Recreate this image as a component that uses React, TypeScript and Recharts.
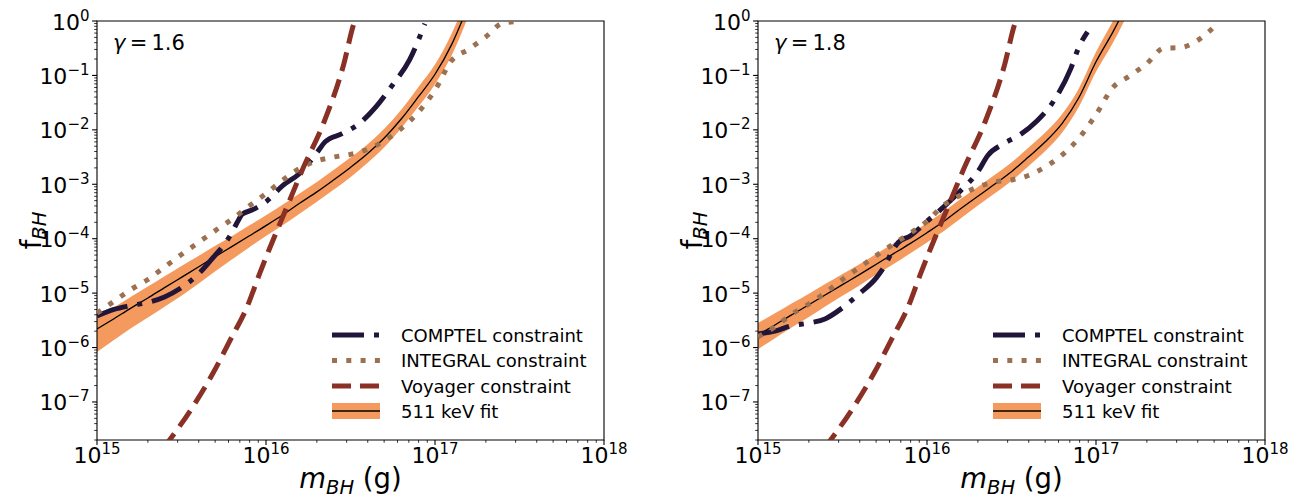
import React from "react";
import { ComposedChart, Line, Area, XAxis, YAxis, ReferenceArea } from "recharts";

const FONT = "DejaVu Sans";

const COMPTEL_COLOR = "#21163a";
const INTEGRAL_COLOR = "#9c7152";
const VOYAGER_COLOR = "#8a3024";
const BAND_COLOR = "#f49a5e";

// 511 keV fit, shared mass grid (g)
const fitMass = [
  1e15, 1.26e15, 1.58e15, 2e15, 2.51e15, 3.16e15, 3.98e15, 5.01e15, 6.31e15, 7.94e15,
  1e16, 1.26e16, 1.58e16, 2e16, 2.51e16, 3.16e16, 3.98e16, 5.01e16, 6.31e16, 7.94e16,
  1e17, 1.26e17, 1.58e17,
];

// gamma = 1.6
const fit16 = [
  2.19e-6, 3.39e-6, 5.25e-6, 8.13e-6, 1.26e-5, 1.95e-5, 3.02e-5, 4.68e-5, 7.24e-5, 1.12e-4,
  1.74e-4, 2.75e-4, 4.47e-4, 7.24e-4, 1.2e-3, 2.04e-3, 3.63e-3, 7.08e-3, 1.58e-2, 3.98e-2,
  0.105, 0.38, 2.0,
];
const fitLo16 = [
  8.32e-7, 1.38e-6, 2.24e-6, 3.55e-6, 5.62e-6, 8.91e-6, 1.48e-5, 2.51e-5, 4.17e-5, 6.92e-5,
  1.12e-4, 1.78e-4, 2.88e-4, 4.79e-4, 7.94e-4, 1.35e-3, 2.45e-3, 4.79e-3, 1.07e-2, 2.63e-2,
  6.92e-2, 0.24, 1.26,
];
const fitHi16 = [
  3.63e-6, 5.5e-6, 8.51e-6, 1.32e-5, 2.04e-5, 3.16e-5, 4.79e-5, 7.41e-5, 1.12e-4, 1.74e-4,
  2.69e-4, 4.27e-4, 6.76e-4, 1.1e-3, 1.82e-3, 3.09e-3, 5.37e-3, 1.05e-2, 2.34e-2, 6.03e-2,
  0.158, 0.603, 3.16,
];

// gamma = 1.8
const fit18 = [
  1.7e-6, 2.6e-6, 3.98e-6, 6.1e-6, 9.33e-6, 1.43e-5, 2.19e-5, 3.39e-5, 5.25e-5, 8.13e-5,
  1.29e-4, 2.09e-4, 3.55e-4, 6.03e-4, 1.0e-3, 1.7e-3, 3.16e-3, 6.03e-3, 1.32e-2, 3.98e-2,
  0.178, 0.631, 2.51,
];
const fitLo18 = [
  9.33e-7, 1.48e-6, 2.34e-6, 3.63e-6, 5.75e-6, 8.91e-6, 1.38e-5, 2.19e-5, 3.39e-5, 5.37e-5,
  8.51e-5, 1.38e-4, 2.34e-4, 4.07e-4, 6.76e-4, 1.15e-3, 2.14e-3, 4.07e-3, 8.91e-3, 2.69e-2,
  0.117, 0.398, 1.58,
];
const fitHi18 = [
  2.82e-6, 4.27e-6, 6.46e-6, 9.77e-6, 1.48e-5, 2.24e-5, 3.39e-5, 5.25e-5, 8.13e-5, 1.23e-4,
  1.95e-4, 3.16e-4, 5.37e-4, 8.91e-4, 1.48e-3, 2.51e-3, 4.68e-3, 8.91e-3, 1.95e-2, 5.89e-2,
  0.269, 1.0, 3.98,
];

// COMPTEL
const comptelMass16 = [
  1e15, 1.26e15, 1.58e15, 2e15, 2.51e15, 3.16e15, 3.98e15, 5.01e15, 5.62e15, 6.31e15,
  6.76e15, 7.24e15, 8.32e15, 1e16, 1.26e16, 1.58e16, 2e16, 2.24e16, 2.82e16, 3.55e16,
  4.47e16, 5.62e16, 7.08e16, 8.71e16,
];
const comptel16 = [
  3.8e-6, 5.01e-6, 5.89e-6, 6.76e-6, 8.51e-6, 1.26e-5, 2.24e-5, 5.01e-5, 7.59e-5, 1.32e-4,
  2.0e-4, 2.82e-4, 3.39e-4, 4.79e-4, 9.55e-4, 1.58e-3, 3.8e-3, 6.03e-3, 8.51e-3, 1.29e-2,
  2.63e-2, 6.76e-2, 0.195, 0.891,
];
const comptelMass18 = [
  1e15, 1.26e15, 1.58e15, 2e15, 2.51e15, 3.16e15, 3.98e15, 5.01e15, 5.62e15, 6.31e15,
  6.76e15, 7.94e15, 1e16, 1.26e16, 1.58e16, 2e16, 2.29e16, 2.82e16, 3.55e16, 4.47e16,
  5.62e16, 7.08e16, 7.94e16, 8.91e16,
];
const comptel18 = [
  1.78e-6, 2.0e-6, 2.51e-6, 2.82e-6, 3.39e-6, 5.37e-6, 9.77e-6, 1.91e-5, 3.16e-5, 6.31e-5,
  8.51e-5, 1.12e-4, 2.09e-4, 3.89e-4, 7.59e-4, 1.7e-3, 3.39e-3, 5.5e-3, 8.13e-3, 1.45e-2,
  3.39e-2, 0.132, 0.339, 0.631,
];

// INTEGRAL
const integralMass16 = [
  1e15, 1.26e15, 1.58e15, 2e15, 2.51e15, 3.16e15, 3.98e15, 5.01e15, 6.31e15, 7.94e15,
  1e16, 1.26e16, 1.58e16, 2e16, 2.51e16, 3.16e16, 3.98e16, 5.01e16, 6.31e16, 7.94e16,
  1e17, 1.26e17, 1.58e17, 2e17, 2.51e17, 3.16e17,
];
const integral16 = [
  4.27e-6, 7.08e-6, 1.15e-5, 1.78e-5, 3.02e-5, 5.13e-5, 8.51e-5, 1.41e-4, 2.29e-4, 3.98e-4,
  6.76e-4, 1.2e-3, 1.95e-3, 2.69e-3, 3.16e-3, 3.55e-3, 4.37e-3, 6.31e-3, 1.05e-2, 2.09e-2,
  5.37e-2, 0.191, 0.302, 0.513, 0.912, 0.977,
];
const integralMass18 = [
  1e15, 1.26e15, 1.58e15, 2e15, 2.51e15, 3.16e15, 3.98e15, 5.01e15, 6.31e15, 7.94e15,
  1e16, 1.26e16, 1.58e16, 2e16, 2.51e16, 3.16e16, 3.98e16, 5.01e16, 6.31e16, 7.94e16,
  1e17, 1.26e17, 1.58e17, 2e17, 2.51e17, 3.16e17, 3.98e17, 5.01e17, 5.25e17,
];
const integral18 = [
  1.58e-6, 2.4e-6, 4.07e-6, 6.31e-6, 1.02e-5, 1.78e-5, 2.95e-5, 4.9e-5, 7.94e-5, 1.26e-4,
  2.09e-4, 4.17e-4, 6.31e-4, 8.91e-4, 1.1e-3, 1.2e-3, 1.45e-3, 2.09e-3, 3.47e-3, 7.08e-3,
  1.91e-2, 6.03e-2, 9.77e-2, 0.166, 0.316, 0.324, 0.437, 0.794, 0.933,
];

// Voyager (same in both panels)
const voyagerMass = [
  2.45e15, 2.75e15, 3.72e15, 4.9e15, 6.17e15, 7.76e15, 9.12e15, 1.05e16, 1.32e16, 1.66e16,
  2.19e16, 2.88e16, 3.31e16, 3.55e16,
];
const voyager = [
  1.38e-8, 2.2e-8, 8.51e-8, 3.55e-7, 1.41e-6, 5.75e-6, 2.19e-5, 6.61e-5, 3.63e-4, 2.0e-3,
  1.32e-2, 0.158, 0.891, 1.5,
];

// ticks
const xMajor = [1e15, 1e16, 1e17, 1e18];
const xMajorLabels = ["15", "16", "17", "18"];
const yMajor = [1, 1e-1, 1e-2, 1e-3, 1e-4, 1e-5, 1e-6, 1e-7];
const yMajorLabels = ["0", "\u22121", "\u22122", "\u22123", "\u22124", "\u22125", "\u22126", "\u22127"];
const minorMantissa = [2, 3, 4, 5, 6, 7, 8, 9];
const xDecades = [1e15, 1e16, 1e17];
const yDecades = [1e-8, 1e-7, 1e-6, 1e-5, 1e-4, 1e-3, 1e-2, 1e-1];

const xTicks = [...xMajor, ...xDecades.flatMap((d) => minorMantissa.map((k) => k * d))];
const yTicks = [...yMajor, ...yDecades.flatMap((d) => minorMantissa.map((k) => k * d))];

const legendLabels = ["COMPTEL constraint", "INTEGRAL constraint", "Voyager constraint", "511 keV fit"];

const zip = (xs: number[], ys: number[]) => xs.map((m, i) => ({ m, v: ys[i] }));

const findMajor = (list: number[], v: number) =>
  list.findIndex((t) => Math.abs(t - v) / t < 1e-9);

const XTick = (props: any) => {
  const { x, y, payload } = props;
  const i = findMajor(xMajor, payload.value);
  const major = i >= 0;
  return (
    <g>
      <line x1={x} x2={x} y1={y} y2={y + (major ? 4.9 : 2.8)} stroke="#000" strokeWidth={major ? 1.1 : 0.8} />
      {major && (
        <text x={x} y={y + 23} textAnchor="middle" fontFamily={FONT} fontSize={22} fill="#000">
          10
          <tspan dy={-9.5} fontSize={15}>
            {xMajorLabels[i]}
          </tspan>
        </text>
      )}
    </g>
  );
};

const YTick = (props: any) => {
  const { x, y, payload } = props;
  const i = findMajor(yMajor, payload.value);
  const major = i >= 0;
  return (
    <g>
      <line x1={x - (major ? 4.9 : 2.8)} x2={x} y1={y} y2={y} stroke="#000" strokeWidth={major ? 1.1 : 0.8} />
      {major && (
        <text x={x - 7.5} y={y + 8.5} textAnchor="end" fontFamily={FONT} fontSize={22} fill="#000">
          10
          <tspan dy={-9} fontSize={15}>
            {yMajorLabels[i]}
          </tspan>
        </text>
      )}
    </g>
  );
};

// plot box inside each 650x490 chart
const T = 13;
const B = 432;

const Panel = ({
  gamma,
  fit,
  lo,
  hi,
  comptelMass,
  comptel,
  integralMass,
  integral,
  left,
}: {
  gamma: string;
  fit: number[];
  lo: number[];
  hi: number[];
  comptelMass: number[];
  comptel: number[];
  integralMass: number[];
  integral: number[];
  left: number;
}) => {
  const fitData = fitMass.map((m, i) => ({ m, v: fit[i], band: [lo[i], hi[i]] }));
  const rows = [327, 352.5, 378, 403];
  return (
    <div style={{ position: "absolute", left, top: 0, width: 650, height: 490 }}>
      <ComposedChart
        width={650}
        height={490}
        margin={{ top: 13, right: 54, bottom: 18, left: 19 }}
        style={{ overflow: "visible" }}
      >
        <XAxis
          type="number"
          dataKey="m"
          scale="log"
          domain={[1e15, 1e18]}
          ticks={xTicks}
          interval={0}
          tick={<XTick />}
          tickLine={false}
          tickSize={0}
          tickMargin={0}
          axisLine={false}
          allowDataOverflow
          height={40}
        />
        <YAxis
          type="number"
          scale="log"
          domain={[2e-8, 1]}
          ticks={yTicks}
          interval={0}
          tick={<YTick />}
          tickLine={false}
          tickSize={0}
          tickMargin={0}
          axisLine={false}
          allowDataOverflow
          width={70}
        />
        <Area
          data={fitData}
          dataKey="band"
          type="monotone"
          fill={BAND_COLOR}
          fillOpacity={1}
          stroke="none"
          isAnimationActive={false}
          dot={false}
          activeDot={false}
        />
        <Line
          data={fitData}
          dataKey="v"
          type="monotone"
          stroke="#000"
          strokeWidth={1.3}
          dot={false}
          activeDot={false}
          isAnimationActive={false}
        />
        <Line
          data={zip(comptelMass, comptel)}
          dataKey="v"
          type="monotone"
          stroke={COMPTEL_COLOR}
          strokeWidth={5}
          strokeDasharray="32 10 5 10"
          dot={false}
          activeDot={false}
          isAnimationActive={false}
        />
        <Line
          data={zip(integralMass, integral)}
          dataKey="v"
          type="monotone"
          stroke={INTEGRAL_COLOR}
          strokeWidth={5}
          strokeDasharray="5 9.3"
          dot={false}
          activeDot={false}
          isAnimationActive={false}
        />
        <Line
          data={zip(voyagerMass, voyager)}
          dataKey="v"
          type="monotone"
          stroke={VOYAGER_COLOR}
          strokeWidth={5}
          strokeDasharray="19 9"
          dot={false}
          activeDot={false}
          isAnimationActive={false}
        />
        <ReferenceArea
          x1={1e15}
          x2={1e18}
          y1={2e-8}
          y2={1}
          fill="none"
          fillOpacity={0}
          stroke="#000"
          strokeWidth={1.1}
          ifOverflow="visible"
        />
      </ComposedChart>
      <svg
        width={650}
        height={490}
        style={{ position: "absolute", left: 0, top: 0, pointerEvents: "none" }}
        fontFamily={FONT}
      >
        <text x={105} y={42} fontSize={21} fill="#000">
          <tspan fontStyle="italic">γ</tspan>
          <tspan>{"\u2009=\u2009" + gamma}</tspan>
        </text>
        <text x={342.5} y={480} textAnchor="middle" fontSize={27.5} fill="#000">
          <tspan fontStyle="italic">m</tspan>
          <tspan dy={6} fontSize={19.5} fontStyle="italic">
            BH
          </tspan>
          <tspan dy={-6}>{"\u00a0(g)"}</tspan>
        </text>
        <text transform={`translate(33, ${(T + B) / 2}) rotate(-90)`} textAnchor="middle" fontSize={27.5} fill="#000">
          f
          <tspan dy={4.5} fontSize={19.5} fontStyle="italic">
            BH
          </tspan>
        </text>
        <line x1={324} x2={372} y1={rows[0]} y2={rows[0]} stroke={COMPTEL_COLOR} strokeWidth={5} strokeDasharray="32 10 5 10" />
        <line x1={324} x2={372} y1={rows[1]} y2={rows[1]} stroke={INTEGRAL_COLOR} strokeWidth={5} strokeDasharray="5 9.3" />
        <line x1={324} x2={372} y1={rows[2]} y2={rows[2]} stroke={VOYAGER_COLOR} strokeWidth={5} strokeDasharray="19 9" />
        <rect x={324} y={rows[3] - 8} width={48} height={16} fill={BAND_COLOR} />
        <line x1={324} x2={372} y1={rows[3]} y2={rows[3]} stroke="#000" strokeWidth={1.5} />
        {legendLabels.map((s, i) => (
          <text key={s} x={393} y={rows[i] + 6.5} fontSize={18} fill="#000">
            {s}
          </text>
        ))}
      </svg>
    </div>
  );
}

export default function App() {
  return (
    <div style={{ position: "relative", width: 1283, height: 490 }}>
      <Panel
        gamma="1.6"
        fit={fit16}
        lo={fitLo16}
        hi={fitHi16}
        comptelMass={comptelMass16}
        comptel={comptel16}
        integralMass={integralMass16}
        integral={integral16}
        left={0}
      />
      <Panel
        gamma="1.8"
        fit={fit18}
        lo={fitLo18}
        hi={fitHi18}
        comptelMass={comptelMass18}
        comptel={comptel18}
        integralMass={integralMass18}
        integral={integral18}
        left={661}
      />
    </div>
  );
}
